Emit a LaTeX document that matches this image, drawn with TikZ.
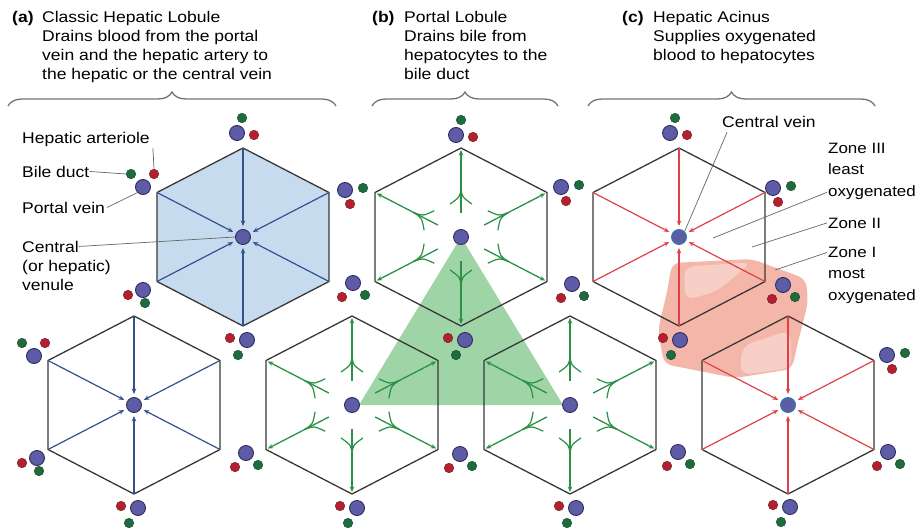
\documentclass[tikz,border=0pt]{standalone}
\usepackage{fontspec}
\setmainfont{Liberation Sans}[FakeStretch=1.13]
\usetikzlibrary{positioning,calc,arrows.meta,decorations.pathreplacing}

\definecolor{lobblue}{HTML}{C6DCEE}
\definecolor{arrblue}{HTML}{34508F}
\definecolor{arrgreen}{HTML}{2B9147}
\definecolor{arrred}{HTML}{DE4248}
\definecolor{veinpurple}{HTML}{5E5CA6}
\definecolor{veinedge}{HTML}{2E2C5E}
\definecolor{veinteal}{HTML}{2A7FA8}
\definecolor{ductgreen}{HTML}{1E6B3D}
\definecolor{arteryred}{HTML}{B3202F}
\definecolor{trigreen}{HTML}{9FD4A6}
\definecolor{acinpink}{HTML}{F5B6AA}
\definecolor{acinlight}{HTML}{F8CFC6}

\tikzset{
  hexline/.style={draw=black!78, line width=1.3pt, line join=round},
  inflow/.style={-{Stealth[length=5.5pt,width=4.5pt]}, line width=1.2pt},
  outflow/.style={arrgreen, -{Stealth[length=5.5pt,width=4.5pt]}, line width=1.3pt},
  branch/.style={arrgreen, line width=1.2pt},
  vein/.style={circle, fill=veinpurple, draw=veinedge, line width=0.9pt, minimum size=15pt, inner sep=0pt},
  acinvein/.style={vein, draw=veinteal},
  duct/.style={circle, fill=ductgreen, draw=ductgreen!70!black, line width=0.5pt, minimum size=9.5pt, inner sep=0pt},
  artery/.style={circle, fill=arteryred, draw=arteryred!70!black, line width=0.5pt, minimum size=9.5pt, inner sep=0pt},
  pointer/.style={draw=black!60, line width=0.7pt},
  head/.style={font=\fontsize{15.5}{19}\selectfont, align=left, inner sep=0pt, anchor=base west},
  side/.style={font=\fontsize{15}{21.5}\selectfont, align=left, inner sep=0pt, anchor=base west},
  bracket/.style={draw=black!55, line width=1.3pt, decorate, decoration={brace, amplitude=14pt}},
  % portal triads, one layout per corner of a lobule
  triadA/.pic={\node[duct] (-bd) at (5,-15) {}; \node[artery] (-ha) at (17,2) {}; \node[vein] (-pv) at (0,0) {};},
  triadB/.pic={\node[duct] (-bd) at (-12,-13) {}; \node[artery] (-ha) at (11,-13) {}; \node[vein] (-pv) at (0,0) {};},
  triadC/.pic={\node[duct] (-bd) at (18,-2) {}; \node[artery] (-ha) at (5,14) {}; \node[vein] (-pv) at (0,0) {};},
  triadD/.pic={\node[duct] (-bd) at (2,13) {}; \node[artery] (-ha) at (-15,5) {}; \node[vein] (-pv) at (0,0) {};},
  triadE/.pic={\node[duct] (-bd) at (12,12) {}; \node[artery] (-ha) at (-11,14) {}; \node[vein] (-pv) at (0,0) {};},
  triadF/.pic={\node[duct] (-bd) at (-9,15) {}; \node[artery] (-ha) at (-17,-2) {}; \node[vein] (-pv) at (0,0) {};}
}

\begin{document}
\begin{tikzpicture}[x=1pt, y=-1pt]
\useasboundingbox (0,0) rectangle (917,532);
\fill[white] (0,0) rectangle (917,532);

% lobule centres and corners
\foreach \n/\cx/\cy in {1/243/237, 3/461/237, 6/679/237, 2/134/405, 4/352/405, 5/570/405, 7/788/405} {
  \coordinate (c\n) at (\cx,\cy);
  \foreach \k/\dx/\dy in {1/0/-89, 2/86/-44.5, 3/86/44.5, 4/0/89, 5/-86/44.5, 6/-86/-44.5}
    \coordinate (h\n-\k) at ($(c\n)+(\dx,\dy)$);
}

% acinus zones
\fill[acinpink, rounded corners=8pt] (672,263) -- (752,259) -- (806,279) -- (808,303) -- (798,342) -- (792,369)
  -- (735,378) -- (664,364) -- (658,330) -- (667,292) -- cycle;
\fill[acinlight, rounded corners=10pt] (684,267) -- (752,262) -- (716,292) -- (685,300) -- cycle;
\fill[acinlight, rounded corners=10pt] (742,346) -- (790,330) -- (792,368) -- (740,375) -- cycle;
% portal lobule
\fill[trigreen] (c3) -- ($(c4)+(7,0)$) -- ($(c5)+(-7,0)$) -- cycle;
% classic lobule
\fill[lobblue] (h1-1) -- (h1-2) -- (h1-3) -- (h1-4) -- (h1-5) -- (h1-6) -- cycle;

\foreach \n in {1,...,7}
  \draw[hexline] (h\n-1) -- (h\n-2) -- (h\n-3) -- (h\n-4) -- (h\n-5) -- (h\n-6) -- cycle;

% blood towards the central vein
\foreach \n/\col in {1/arrblue, 2/arrblue, 6/arrred, 7/arrred}
  \foreach \k in {1,...,6}
    \draw[inflow, \col] (h\n-\k) -- ($(c\n)!11pt!(h\n-\k)$);

% bile out to the corners
\foreach \n in {3,4,5}
  \foreach \k in {1,...,6} {
    \draw[outflow] ($(c\n)!0.27!(h\n-\k)$) -- ($(h\n-\k)!2pt!(c\n)$);
    \foreach \s in {90,-90}
      \draw[branch] ($(c\n)!0.55!(h\n-\k)$) .. controls ($(c\n)!0.45!(h\n-\k)!1pt!\s:(h\n-\k)$) .. ($(c\n)!0.37!(h\n-\k)!11pt!\s:(h\n-\k)$);
  }

% central veins
\foreach \n in {1,...,5}
  \node[vein] (cv\n) at (c\n) {};
\foreach \n in {6,7}
  \node[acinvein] (cv\n) at (c\n) {};

% portal triads
\foreach \x/\y [count=\i] in {237/133, 456/135, 670/133}
  \pic (tA\i) at (\x,\y) {triadA};
\foreach \x/\y [count=\i] in {143/187, 34/356}
  \pic (tB\i) at (\x,\y) {triadB};
\foreach \x/\y [count=\i] in {345/190, 561/187, 773/188, 887/355}
  \pic (tC\i) at (\x,\y) {triadC};
\foreach \x/\y [count=\i] in {143/290, 37/458}
  \pic (tD\i) at (\x,\y) {triadD};
\foreach \x/\y [count=\i] in {353/283, 572/284, 783/285, 246/453, 460/454, 678/452, 888/452}
  \pic (tE\i) at (\x,\y) {triadE};
\foreach \x/\y [count=\i] in {247/340, 465/340, 680/340, 138/508, 357/508, 576/508, 790/507}
  \pic (tF\i) at (\x,\y) {triadF};

% headings (base = last line)
\node[head] (taga) at (12,23) {\textbf{(a)}};
\node[head] (heada) at (42,80) {Classic Hepatic Lobule\\Drains blood from the portal\\vein and the hepatic artery to\\the hepatic or the central vein};
\node[head] (tagb) at (372,23) {\textbf{(b)}};
\node[head] (headb) at (404,80) {Portal Lobule\\Drains bile from\\hepatocytes to the\\bile duct};
\node[head] (tagc) at (622,23) {\textbf{(c)}};
\node[head] (headc) at (653,61) {Hepatic Acinus\\Supplies oxygenated\\blood to hepatocytes};

\draw[bracket] (8,106) -- (336,106);
\draw[bracket] (372,106) -- (558,106);
\draw[bracket] (588,106) -- (875,106);

% left labels
\node[head] (lblha) at (22,143) {Hepatic arteriole};
\node[head] (lblbd) at (22,177) {Bile duct};
\node[head] (lblpv) at (22,213) {Portal vein};
\node[head] (lblcv) at (22,252) {Central};
\node[head] (lblcv2) at (22,290) {(or hepatic)\\venule};
\draw[pointer] ([xshift=3pt,yshift=-2pt]lblha.south east) -- (tB1-ha.north);
\draw[pointer] (lblbd.east) -- (tB1-bd.west);
\draw[pointer] ([xshift=2pt]lblpv.east) -- (tB1-pv.south west);
\draw[pointer] (lblcv.east) -- (cv1.west);

% right labels
\node[head] (lblcvr) at (722,128) {Central vein};
\node[side] (lblz3) at (828,196) {Zone III\\least\\oxygenated};
\node[side] (lblz2) at (828,228) {Zone II};
\node[side] (lblz1) at (828,300) {Zone I\\most\\oxygenated};
\coordinate (z3pt) at (713,238);
\coordinate (z2pt) at (752,247);
\coordinate (z1pt) at (775,270);
\draw[pointer] ([xshift=5pt,yshift=-4pt]lblcvr.south west) -- (cv6.north east);
\draw[pointer] ([xshift=-1pt,yshift=7pt]lblz3.south west) -- (z3pt);
\draw[pointer] ([xshift=-1pt]lblz2.west) -- (z2pt);
\draw[pointer] ([xshift=-1pt,yshift=-6pt]lblz1.north west) -- (z1pt);
\end{tikzpicture}
\end{document}
